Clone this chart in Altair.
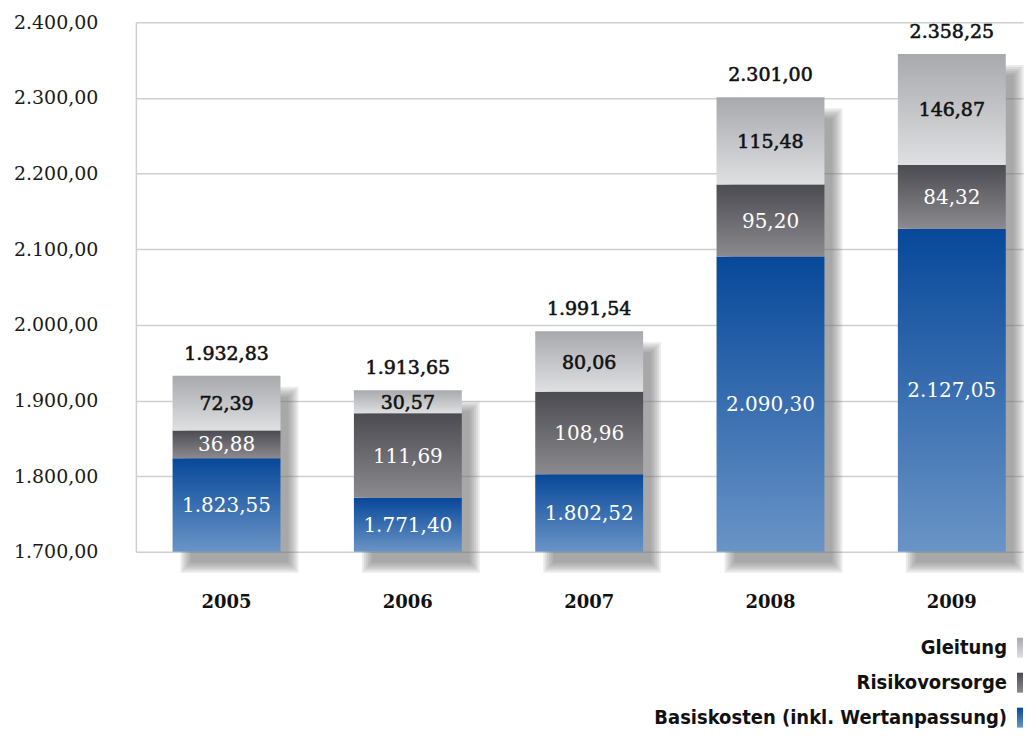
import altair as alt
import pandas as pd

# ---------------- data ----------------
years = ["2005", "2006", "2007", "2008", "2009"]
basiskosten = [1823.55, 1771.40, 1802.52, 2090.30, 2127.05]
risikovorsorge = [36.88, 111.69, 108.96, 95.20, 84.32]
gleitung = [72.39, 30.57, 80.06, 115.48, 146.87]
totals = [1932.83, 1913.65, 1991.54, 2301.00, 2358.25]
series = ["Basiskosten (inkl. Wertanpassung)", "Risikovorsorge", "Gleitung"]
legend_order = ["Gleitung", "Risikovorsorge", "Basiskosten (inkl. Wertanpassung)"]
y_ticks = [1700, 1800, 1900, 2000, 2100, 2200, 2300, 2400]

# ---------------- styles ----------------
Y_MIN, Y_MAX = 1700, 2400
STEP = 181.5
BAR_W = 108
PLOT_W = 888
PLOT_H = 530
SERIF = "DejaVu Serif"
SANS_C = "DejaVu Sans Condensed"

PI = 1 - BAR_W / STEP
PO = (PLOT_W / STEP - len(years) + PI) / 2
SLACK = PLOT_W - STEP * (len(years) - PI)
ALIGN = (STEP / 2 - BAR_W / 2) / SLACK

GRAD = {
    series[0]: ("#07489a", "#6a94c6"),
    series[1]: ("#4c4b51", "#8b8a8f"),
    series[2]: ("#a8a9ad", "#dfe0e2"),
}


def grad(c0, c1):
    return alt.LinearGradient(
        gradient="linear", x1=0, y1=0, x2=0, y2=1,
        stops=[alt.GradientStop(offset=0, color=c0), alt.GradientStop(offset=1, color=c1)],
    )


def de(v):
    s = f"{v:,.2f}"
    return s.replace(",", "#").replace(".", ",").replace("#", ".")


# segment table
rows = []
for i, yr in enumerate(years):
    vals = [basiskosten[i], risikovorsorge[i], gleitung[i]]
    cum = 0.0
    for j, s in enumerate(series):
        lo = Y_MIN if j == 0 else cum
        cum = vals[0] if j == 0 else cum + vals[j]
        rows.append(dict(year=yr, series=s, lo=lo, hi=cum,
                         mid=(lo + cum) / 2, label=de(vals[j])))
seg = pd.DataFrame(rows)

tot = pd.DataFrame(dict(
    year=years,
    top=[basiskosten[i] + risikovorsorge[i] + gleitung[i] for i in range(len(years))],
    label=[de(t) for t in totals],
))

x_enc = alt.X(
    "year:N", sort=years, title=None,
    scale=alt.Scale(paddingInner=PI, paddingOuter=PO, align=ALIGN),
    axis=alt.Axis(labelAngle=0, labelFont=SERIF, labelFontSize=18, labelFontWeight="bold",
                  labelColor="#111111", labelPadding=42, domain=False, ticks=False,
                  grid=False),
)
y_scale = alt.Scale(domain=[Y_MIN, Y_MAX], zero=False, nice=False)

y_axis = alt.Axis(
    values=y_ticks, title=None, labelFont=SERIF, labelFontSize=19, labelColor="#1a1a1a",
    labelPadding=38, ticks=False, domain=True, domainColor="#cfcfcf", domainWidth=1.5,
    grid=True, gridColor="#cfcfcf", gridWidth=1.5,
    labelExpr="replace(replace(replace(format(datum.value, ',.2f'), ',', '#'), '.', ','), '#', '.')",
)

layers = []

# shadow (simulated blur with stacked translucent rectangles)
DX, DY = 13, 16
for k in [-5, -3, -1, 1, 3, 5]:
    layers.append(
        alt.Chart(tot).mark_bar(
            fill="#6e6e6e", opacity=0.14, size=BAR_W + 2 * k,
            xOffset=DX, yOffset=DY - k, y2Offset=DY + k,
        ).encode(
            x=x_enc,
            y=alt.Y("top:Q", scale=y_scale, axis=y_axis),
            y2=alt.datum(Y_MIN),
        )
    )

# stacked bar segments
for s in series:
    layers.append(
        alt.Chart(seg).transform_filter(alt.datum.series == s).mark_bar(
            size=BAR_W, fill=grad(*GRAD[s]), strokeWidth=0,
        ).encode(
            x=x_enc,
            y=alt.Y("hi:Q", scale=y_scale, axis=y_axis),
            y2="lo:Q",
        )
    )

# inner labels
for s in series:
    dark = s == series[2]
    props = dict(font=SERIF, fontSize=20, baseline="middle", align="center", dy=1)
    if dark:
        props.update(color="#111111", stroke="#111111", strokeWidth=0.6, fontSize=19)
    else:
        props.update(color="#ffffff")
    layers.append(
        alt.Chart(seg).transform_filter(alt.datum.series == s).mark_text(**props).encode(
            x=x_enc,
            y=alt.Y("mid:Q", scale=y_scale, axis=y_axis),
            text="label:N",
        )
    )

# totals
layers.append(
    alt.Chart(tot).mark_text(
        font=SERIF, fontSize=19, color="#111111", stroke="#111111", strokeWidth=0.6,
        baseline="middle", align="center", dy=-22,
    ).encode(
        x=x_enc,
        y=alt.Y("top:Q", scale=y_scale, axis=y_axis),
        text="label:N",
    )
)

main = alt.layer(*layers).properties(
    width=PLOT_W, height=PLOT_H,
    view=alt.ViewBackground(stroke="transparent", strokeWidth=0),
)

# ---------------- legend panel ----------------
leg_df = pd.DataFrame(dict(series=legend_order))
leg_y = alt.Y("series:N", sort=legend_order, axis=None,
              scale=alt.Scale(type="point", padding=0))
leg_layers = [
    alt.Chart(leg_df).mark_text(
        font=SANS_C, fontSize=20, fontWeight="bold", color="#111111",
        align="right", baseline="middle",
    ).encode(x=alt.value(PLOT_W - 16), y=leg_y, text="series:N")
]
for s in series:
    leg_layers.append(
        alt.Chart(leg_df).transform_filter(alt.datum.series == s).mark_tick(
            orient="vertical", thickness=6, size=20, fill=grad(*GRAD[s]), opacity=1,
        ).encode(x=alt.value(PLOT_W - 3), y=leg_y)
    )
legend = alt.layer(*leg_layers).properties(
    width=PLOT_W, height=70,
    view=alt.ViewBackground(stroke="transparent", strokeWidth=0),
)

chart = alt.vconcat(main, legend, spacing=26).properties(
    padding={"left": 5, "top": 5, "right": 0, "bottom": 0}
).configure_view(stroke="transparent", strokeWidth=0).configure(background="white")

chart.save("out.html", embed_options={"renderer": "svg", "actions": False})
